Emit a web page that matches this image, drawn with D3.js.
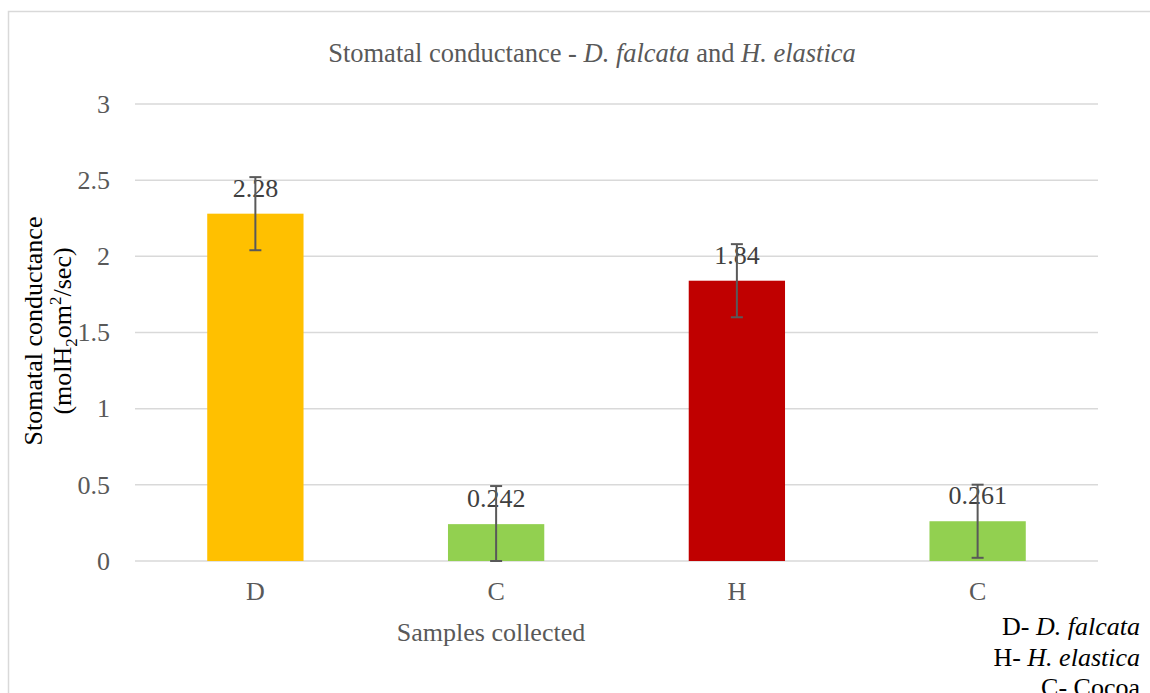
<!DOCTYPE html>
<html lang="en">
  <head>
    <title>Stomatal conductance</title>
    <script src="https://d3js.org/d3.v7.min.js"></script>
    <style>
      body { margin: 0; background: white; }
      text { font-family: "Liberation Serif", "Times New Roman", serif; }
    </style>
  </head>
  <body>
    <div id="chart"></div>
    <script>
      var categories = ["D", "C", "H", "C"];
      var values = [2.28, 0.242, 1.84, 0.261];
      var errors = [0.24, 0.25, 0.24, 0.24];
      var barColors = ["#FFC000", "#92D050", "#C00000", "#92D050"];
      var yTicks = [0, 0.5, 1, 1.5, 2, 2.5, 3];

      var width = 1150;
      var height = 693;
      var plotLeft = 135, plotRight = 1098, plotTop = 104, plotBottom = 561;

      var svg = d3
        .select("#chart")
        .append("svg")
        .attr("width", width)
        .attr("height", height);

      // chart border
      svg
        .append("rect")
        .attr("x", 8.5)
        .attr("y", 11.5)
        .attr("width", 1160)
        .attr("height", 700)
        .attr("fill", "white")
        .attr("stroke", "#d9d9d9")
        .attr("stroke-width", 1.5);

      var x = d3
        .scaleBand()
        .domain(d3.range(categories.length))
        .range([plotLeft, plotRight])
        .paddingInner(0.6)
        .paddingOuter(0.3);

      var y = d3.scaleLinear().domain([0, 3]).range([plotBottom, plotTop]);

      // gridlines
      svg
        .append("g")
        .selectAll("line")
        .data(yTicks)
        .join("line")
        .attr("x1", plotLeft)
        .attr("x2", plotRight)
        .attr("y1", function (d) { return y(d); })
        .attr("y2", function (d) { return y(d); })
        .attr("stroke", "#d9d9d9")
        .attr("stroke-width", 1.5);

      // y axis labels
      var yAxis = svg
        .append("g")
        .attr("transform", "translate(" + (plotLeft - 22) + ",0)")
        .call(d3.axisLeft(y).tickValues(yTicks).tickSize(0).tickFormat(d3.format("")));
      yAxis.select(".domain").remove();
      yAxis
        .selectAll("text")
        .attr("fill", "#595959")
        .style("font-size", "26px")
        .style("font-family", "Liberation Serif");

      // bars
      svg
        .append("g")
        .selectAll("rect")
        .data(values)
        .join("rect")
        .attr("x", function (d, i) { return x(i); })
        .attr("y", function (d) { return y(d); })
        .attr("width", x.bandwidth())
        .attr("height", function (d) { return y(0) - y(d); })
        .attr("fill", function (d, i) { return barColors[i]; });

      // data labels
      svg
        .append("g")
        .selectAll("text")
        .data(values)
        .join("text")
        .attr("x", function (d, i) { return x(i) + x.bandwidth() / 2; })
        .attr("y", function (d) { return y(d) - 17; })
        .attr("text-anchor", "middle")
        .attr("fill", "#404040")
        .style("font-size", "26px")
        .text(function (d) { return d; });

      // error bars
      var eb = svg.append("g").attr("stroke", "#595959").attr("stroke-width", 2);
      values.forEach(function (v, i) {
        var cx = x(i) + x.bandwidth() / 2;
        var hi = y(v + errors[i]);
        var lo = y(Math.max(0, v - errors[i]));
        eb.append("line").attr("x1", cx).attr("x2", cx).attr("y1", hi).attr("y2", lo);
        eb.append("line").attr("x1", cx - 6).attr("x2", cx + 6).attr("y1", hi).attr("y2", hi);
        eb.append("line").attr("x1", cx - 6).attr("x2", cx + 6).attr("y1", lo).attr("y2", lo);
      });

      // x axis labels
      var xAxis = svg
        .append("g")
        .attr("transform", "translate(0," + (plotBottom + 18) + ")")
        .call(d3.axisBottom(x).tickSize(0).tickFormat(function (i) { return categories[i]; }));
      xAxis.select(".domain").remove();
      xAxis
        .selectAll("text")
        .attr("fill", "#595959")
        .style("font-size", "26px")
        .style("font-family", "Liberation Serif");

      // title
      var title = svg
        .append("text")
        .attr("x", 592)
        .attr("y", 62)
        .attr("text-anchor", "middle")
        .attr("fill", "#595959")
        .style("font-size", "26.5px");
      title.append("tspan").text("Stomatal conductance - ");
      title.append("tspan").style("font-style", "italic").text("D. falcata");
      title.append("tspan").text(" and ");
      title.append("tspan").style("font-style", "italic").text("H. elastica");

      // x axis title
      svg
        .append("text")
        .attr("x", 491)
        .attr("y", 641)
        .attr("text-anchor", "middle")
        .attr("fill", "#595959")
        .style("font-size", "26px")
        .text("Samples collected");

      // y axis title
      var yt = svg
        .append("g")
        .attr("transform", "translate(0,331) rotate(-90)");
      yt.append("text")
        .attr("x", 0)
        .attr("y", 42)
        .attr("text-anchor", "middle")
        .attr("fill", "#000")
        .style("font-size", "26px")
        .text("Stomatal conductance");
      var yt2 = yt
        .append("text")
        .attr("x", 0)
        .attr("y", 71)
        .attr("text-anchor", "middle")
        .attr("fill", "#000")
        .style("font-size", "26px");
      yt2.append("tspan").text("(molH");
      yt2.append("tspan").attr("dy", 6).style("font-size", "17px").text("2");
      yt2.append("tspan").attr("dy", -6).text("om");
      yt2.append("tspan").attr("dy", -10).style("font-size", "17px").text("2");
      yt2.append("tspan").attr("dy", 10).text("/sec)");

      // key text at the bottom right
      var keyLines = [
        ["D- ", "D. falcata"],
        ["H- ", "H. elastica"],
        ["C- Cocoa", ""]
      ];
      svg
        .append("g")
        .selectAll("text")
        .data(keyLines)
        .join("text")
        .attr("x", 1140)
        .attr("y", function (d, i) { return 635 + i * 30.5; })
        .attr("text-anchor", "end")
        .attr("fill", "#000")
        .style("font-size", "26px")
        .each(function (d) {
          var t = d3.select(this);
          t.append("tspan").text(d[0]);
          if (d[1]) t.append("tspan").style("font-style", "italic").text(d[1]);
        });
    </script>
  </body>
</html>
